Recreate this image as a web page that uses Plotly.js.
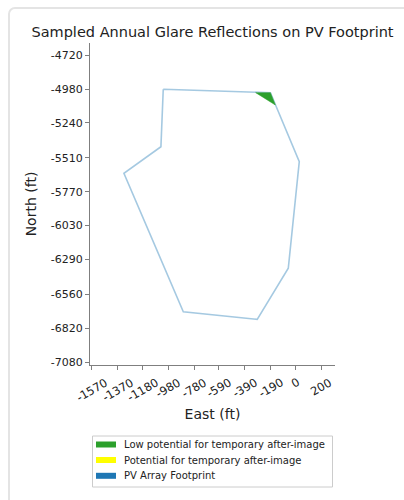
<!DOCTYPE html>
<html>
<head>
<meta charset="utf-8">
<script src="https://cdn.plot.ly/plotly-3.0.1.min.js"></script>
<style>
  html, body { margin: 0; padding: 0; background: #fff; width: 404px; height: 500px; overflow: hidden; }
  #card { position: absolute; left: 8px; top: 7px; width: 430px; height: 530px; border: 2px solid #e4e4e4; border-radius: 7px; box-sizing: border-box; }
  #chart { position: absolute; left: 0; top: 0; width: 404px; height: 500px; }
</style>
</head>
<body>
<div id="card"></div>
<div id="chart"></div>
<script>
// PV array footprint polygon (East, North in ft)
const footprintEast  = [-1019, -191, 32, -53, -293, -864, -1323, -1037, -1019];
const footprintNorth = [-4982, -5008, -5539, -6359, -6752, -6693, -5628, -5424, -4982];

// Low potential glare region (green)
const lowEast  = [-305, -191, -153, -305];
const lowNorth = [-5008, -5008, -5103, -5008];

// Potential for after-image (none present)
const potEast = [];
const potNorth = [];

// Tick labels
const xTicks = [-1570, -1370, -1180, -980, -780, -590, -390, -190, 0, 200];
const yTicks = [-4720, -4980, -5240, -5510, -5770, -6030, -6290, -6560, -6820, -7080];

const seriesNames = [
  'Low potential for temporary after-image',
  'Potential for temporary after-image',
  'PV Array Footprint'
];
const seriesColors = ['#2ca02c', '#ffff00', '#1f77b4'];

const font = 'DejaVu Sans, sans-serif';

// plot area in pixels (layout constants)
const W = 404, H = 500, ML = 90, MR = 69, MT = 43, MB = 135;
const PW = W - ML - MR, PH = H - MT - MB;
const px = v => (v - ML) / PW;
const py = v => (H - MB - v) / PH;

const traces = [
  { x: footprintEast, y: footprintNorth, mode: 'lines', type: 'scatter',
    line: { color: 'rgba(31,119,180,0.4)', width: 1.6 }, showlegend: false, hoverinfo: 'skip' },
  { x: lowEast, y: lowNorth, mode: 'lines', type: 'scatter', fill: 'toself',
    fillcolor: seriesColors[0], line: { color: seriesColors[0], width: 0.5 }, showlegend: false, hoverinfo: 'skip' }
];
if (potEast.length) {
  traces.push({ x: potEast, y: potNorth, mode: 'lines', type: 'scatter', fill: 'toself',
    fillcolor: seriesColors[1], line: { color: seriesColors[1], width: 0.5 }, showlegend: false });
}

// manual legend (matplotlib style)
const shapes = [{
  type: 'rect', xref: 'paper', yref: 'paper',
  x0: px(92.5), x1: px(332.5), y0: py(436), y1: py(487),
  line: { color: '#cccccc', width: 1 }, fillcolor: '#ffffff', layer: 'above'
}];
const annotations = [];
const rowY = [444.5, 460, 475.8];
seriesNames.forEach((name, i) => {
  shapes.push({
    type: 'rect', xref: 'paper', yref: 'paper',
    x0: px(96), x1: px(116), y0: py(rowY[i] - 3), y1: py(rowY[i] + 3),
    line: { width: 0 }, fillcolor: seriesColors[i], layer: 'above'
  });
  annotations.push({
    text: name, xref: 'paper', yref: 'paper', x: px(121.5), y: py(rowY[i]),
    xanchor: 'left', yanchor: 'middle', showarrow: false,
    font: { family: font, size: 10, color: '#222' }
  });
});

// x tick labels: rotated 30 deg, centred under each tick (matplotlib style)
xTicks.forEach(v => {
  annotations.push({
    text: String(v), xref: 'x', yref: 'paper', x: v, y: py(374),
    xanchor: 'center', yanchor: 'top', textangle: -30, showarrow: false,
    font: { family: font, size: 11.5, color: '#222' }, borderpad: 0
  });
});

const axisCommon = {
  showgrid: false, zeroline: false, showline: true, linecolor: '#7f7f7f', linewidth: 1,
  ticks: 'outside', ticklen: 4, tickwidth: 1, tickcolor: '#7f7f7f', automargin: false,
  tickfont: { family: font, size: 11, color: '#222' }, mirror: false
};

const layout = {
  width: W, height: H,
  margin: { l: ML, r: MR, t: MT, b: MB },
  paper_bgcolor: 'rgba(0,0,0,0)', plot_bgcolor: 'rgba(0,0,0,0)',
  title: { text: 'Sampled Annual Glare Reflections on PV Footprint', font: { family: font, size: 14.5, color: '#222' },
           x: 0.5, xref: 'paper', xanchor: 'center', y: 1, yref: 'paper', yanchor: 'bottom', pad: { b: 6 } },
  xaxis: Object.assign({}, axisCommon, {
    range: [-1585, 308], tickvals: xTicks, showticklabels: false,
    title: { text: 'East (ft)', font: { family: font, size: 14, color: '#222' }, standoff: 40 }
  }),
  yaxis: Object.assign({}, axisCommon, {
    range: [-7103, -4626], tickvals: yTicks, ticktext: yTicks.map(String),
    title: { text: 'North (ft)', font: { family: font, size: 14, color: '#222' }, standoff: 10 }
  }),
  showlegend: false,
  shapes: shapes,
  annotations: annotations
};

Plotly.newPlot('chart', traces, layout, { displayModeBar: false, staticPlot: true });
</script>
</body>
</html>
